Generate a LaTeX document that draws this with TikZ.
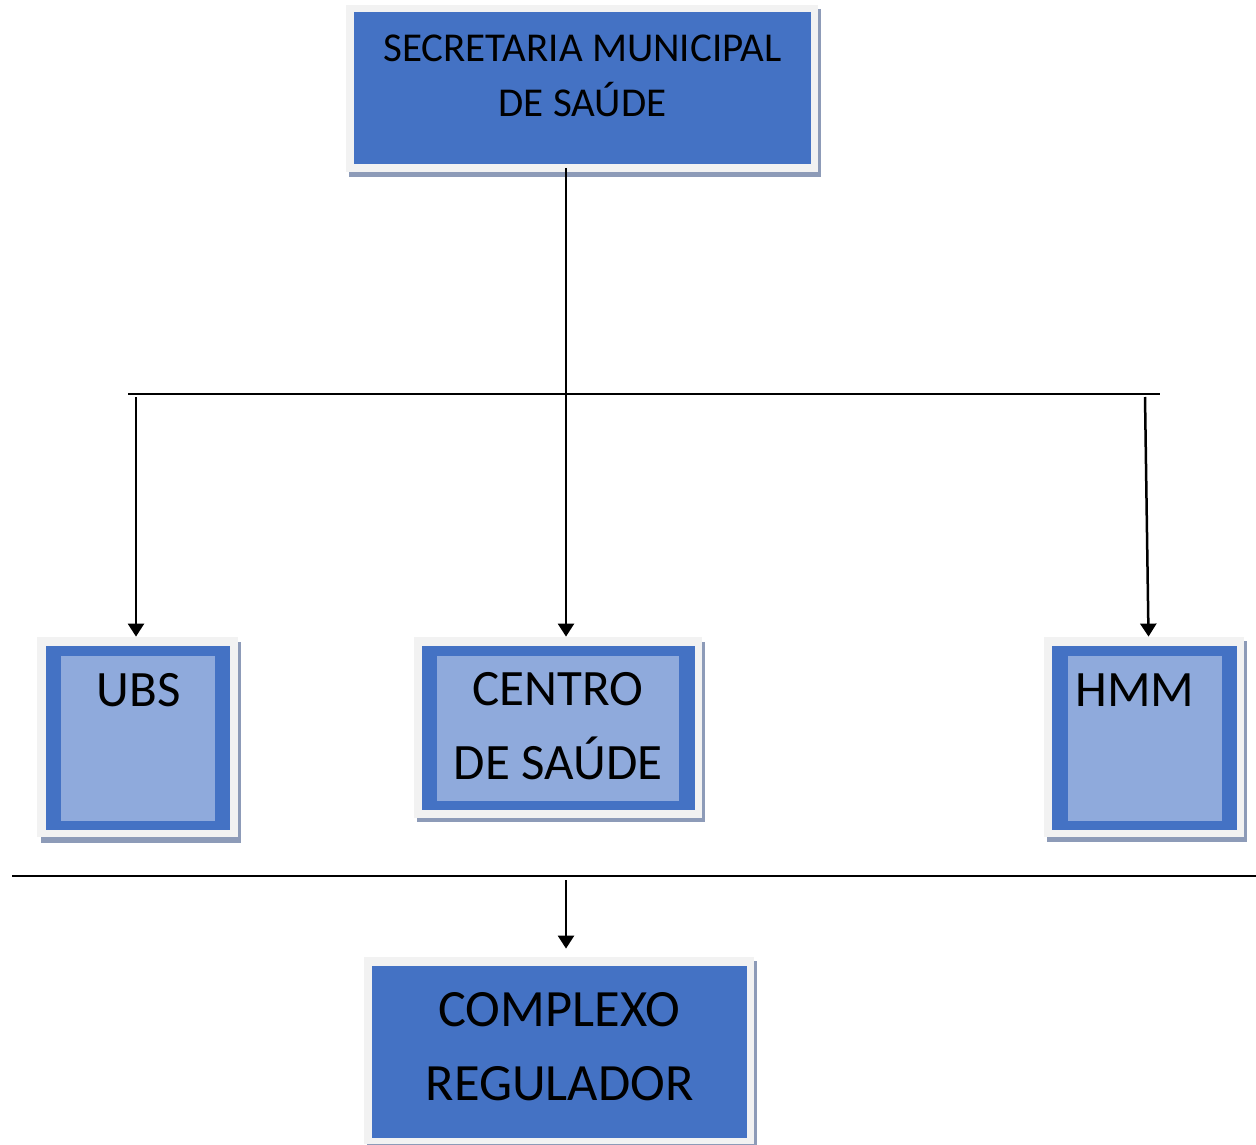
\documentclass[tikz,border=0pt]{standalone}
\usepackage{fontspec}
\setmainfont{Carlito}
\usetikzlibrary{arrows.meta}
\definecolor{darkbox}{RGB}{68,114,196}
\definecolor{lightbox}{RGB}{143,170,220}
\definecolor{framegray}{RGB}{242,242,242}
\definecolor{shadowgray}{RGB}{141,155,184}
\tikzstyle{boxnode}=[fill=darkbox, inner sep=0pt]
\tikzstyle{smalltext}=[font=\fontsize{20.5}{27.5}\selectfont, align=center, inner sep=0pt]
\tikzstyle{bigtext}=[font=\fontsize{25.5}{37}\selectfont, align=center, inner sep=0pt]
\tikzstyle{rule}=[line width=0.75pt]
\tikzstyle{link}=[line width=1.25pt, -{Triangle[width=8pt,length=6.5pt]}]

\begin{document}
\begin{tikzpicture}[x=0.5pt, y=-0.5pt]
    \useasboundingbox (0,0) rectangle (1256,1144);
% Shadows and frames
    \fill[shadowgray] (349,9) rectangle (821,177);
    \fill[framegray] (346,5) rectangle (818,172);
    \fill[shadowgray] (41,642) rectangle (241,843);
    \fill[framegray] (37,637) rectangle (238,837);
    \fill[shadowgray] (417,642) rectangle (705,822);
    \fill[framegray] (414,637) rectangle (702,818);
    \fill[shadowgray] (1047,641) rectangle (1247,842);
    \fill[framegray] (1044,637) rectangle (1244,837);
    \fill[shadowgray] (367,961) rectangle (757,1150);
    \fill[framegray] (364,957) rectangle (754,1144);
% Boxes
    \node[boxnode, minimum width=228.5pt, minimum height=76pt] (sms) at (582.5,88) {};
    \node[boxnode, minimum width=92pt, minimum height=92pt] (ubs) at (138,738) {};
    \node[boxnode, minimum width=136.5pt, minimum height=82pt] (centro) at (558.5,728) {};
    \node[boxnode, minimum width=92.5pt, minimum height=92pt] (hmm) at (1144.5,738) {};
    \node[boxnode, minimum width=187.5pt, minimum height=86pt] (complexo) at (559.5,1052) {};
% Inner panels
    \fill[lightbox] (61,656) rectangle (215,821);
    \fill[lightbox] (437,656) rectangle (679,801);
    \fill[lightbox] (1068,656) rectangle (1222,821);
% Labels
    \node[smalltext] (smslabel) at (582.5,75.5) {SECRETARIA MUNICIPAL\\DE SAÚDE};
    \node[bigtext] (ubslabel) at (138.5,690) {UBS};
    \node[bigtext] (centrolabel) at (558,726) {CENTRO\\DE SAÚDE};
    \node[bigtext, anchor=west] (hmmlabel) at (1075,690) {HMM};
    \node[bigtext, font=\fontsize{26.2}{37}\selectfont] (complexolabel) at (559.5,1047) {COMPLEXO\\REGULADOR};
% Rules
    \draw[rule] (128,394) -- (1160,394);
    \draw[rule] (12,876) -- (1256,876);
% Arrows
    \coordinate (smsfoot) at (566,168);
    \coordinate (lefttop) at (136,397);
    \coordinate (righttop) at (1145,397);
    \coordinate (bottomtop) at (566,880);
    \draw[link] (smsfoot) -- ([yshift=4.5pt]centro.north -| smsfoot);
    \draw[link] (lefttop) -- ([yshift=4.5pt]ubs.north -| lefttop);
    \draw[link] (righttop) -- ([xshift=2pt,yshift=4.5pt]hmm.north);
    \draw[link] (bottomtop) -- ([yshift=8.5pt]complexo.north -| bottomtop);
\end{tikzpicture}
\end{document}
